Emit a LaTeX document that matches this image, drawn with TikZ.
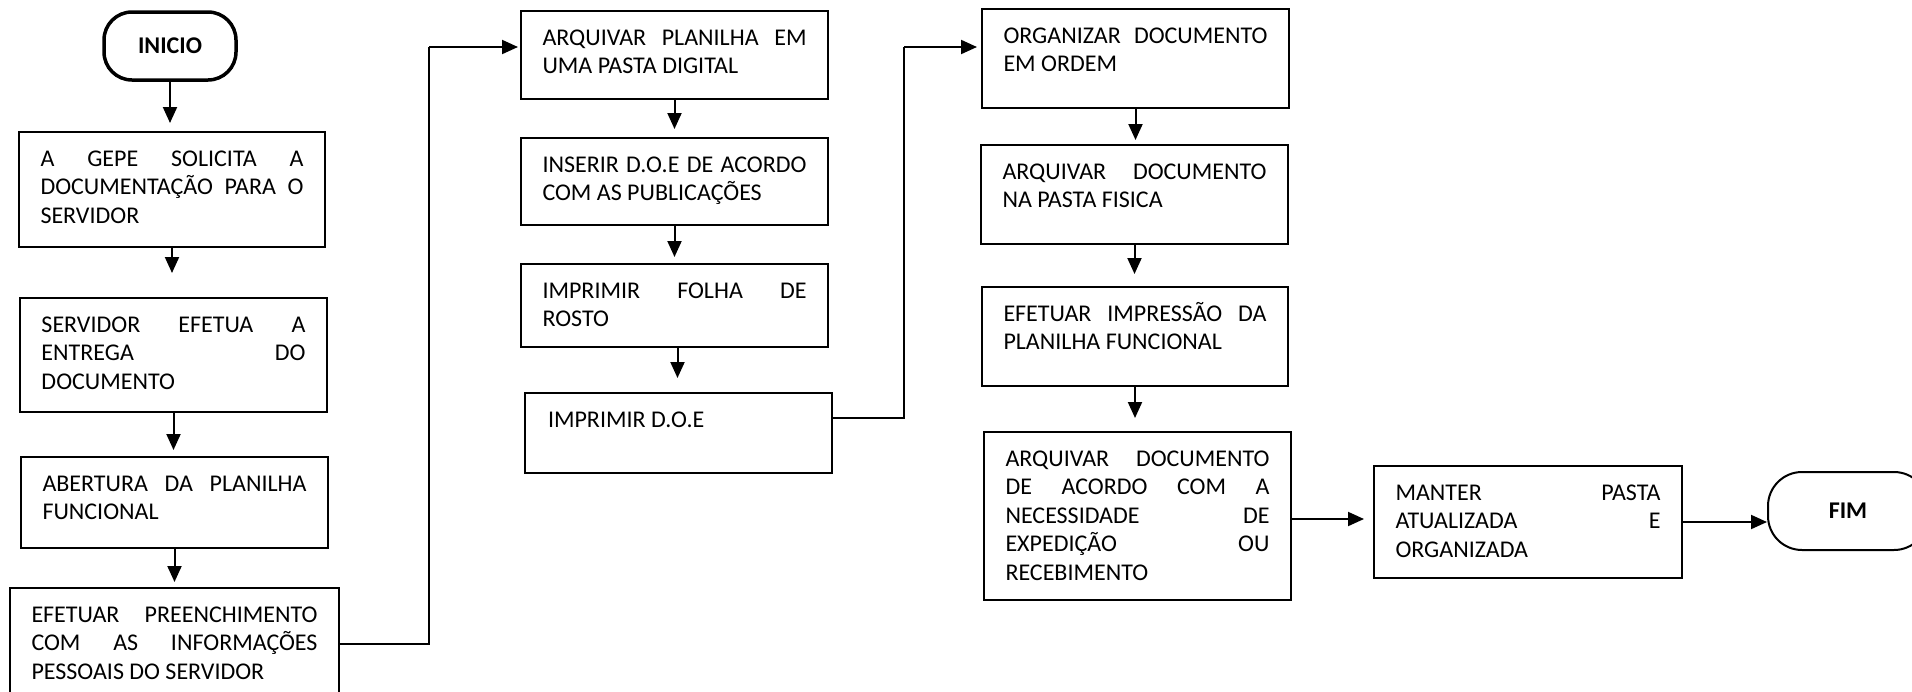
\documentclass[tikz,border=0pt]{standalone}
\usepackage{fontspec}
\setmainfont{Carlito}
\usetikzlibrary{arrows.meta}

% a justified (stretched) line inside a step box
\newcommand\jline[1]{\makebox[\linewidth][s]{#1}\\}
% top-aligned body of a step box: #1 outer width, #2 outer height, #3 lines
\newcommand\boxtext[3]{\parbox[t][#2pt][t]{\dimexpr#1pt-43pt\relax}{\vspace*{14.5pt}\strut#3}}

\begin{document}
\begin{tikzpicture}[x=1pt,y=-1pt,
  stepbox/.style={draw, line width=2pt, inner xsep=21.5pt, inner ysep=0pt,
    anchor=north west, font=\fontsize{24}{28.5}\selectfont},
  terminal/.style={draw, inner sep=0pt, font=\fontsize{24}{28.5}\selectfont\bfseries},
  flow/.style={line width=2pt, -{Triangle[length=16pt,width=14pt]}},
  link/.style={line width=2pt}]

\useasboundingbox (0,0) rectangle (1912,691);

% start and end
\node[terminal, line width=3.5pt, rounded corners=28pt, minimum width=132pt, minimum height=68pt] (start) at (170,46) {INICIO};
\node[terminal, line width=2pt, rounded corners=34pt, minimum width=160pt, minimum height=78pt] (fim) at (1848,511) {FIM};

% first column
\node[stepbox] (b1) at (18,131) {\boxtext{306}{115}{\jline{A GEPE SOLICITA A}\jline{DOCUMENTAÇÃO PARA O}SERVIDOR}};
\node[stepbox] (b2) at (19,297) {\boxtext{307}{114}{\jline{SERVIDOR EFETUA A}\jline{ENTREGA DO}DOCUMENTO}};
\node[stepbox] (b3) at (20,456) {\boxtext{307}{91}{\jline{ABERTURA DA PLANILHA}FUNCIONAL}};
\node[stepbox] (b4) at (9,587) {\boxtext{329}{112}{\jline{EFETUAR PREENCHIMENTO}\jline{COM AS INFORMAÇÕES}PESSOAIS DO SERVIDOR}};

% second column
\node[stepbox] (b5) at (520,10) {\boxtext{307}{88}{\jline{ARQUIVAR PLANILHA EM}UMA PASTA DIGITAL}};
\node[stepbox] (b6) at (520,137) {\boxtext{307}{87}{\jline{INSERIR D.O.E DE ACORDO}COM AS PUBLICAÇÕES}};
\node[stepbox] (b7) at (520,263) {\boxtext{307}{83}{\jline{IMPRIMIR FOLHA DE}ROSTO}};
\node[stepbox] (b8) at (524,392) {\boxtext{307}{80}{\hspace*{1.5pt}IMPRIMIR D.O.E}};

% third column
\node[stepbox] (b9) at (981,8) {\boxtext{307}{99}{\jline{ORGANIZAR DOCUMENTO}EM ORDEM}};
\node[stepbox] (b10) at (980,144) {\boxtext{307}{99}{\jline{ARQUIVAR DOCUMENTO}NA PASTA FISICA}};
\node[stepbox] (b11) at (981,286) {\boxtext{306}{99}{\jline{EFETUAR IMPRESSÃO DA}PLANILHA FUNCIONAL}};
\node[stepbox] (b12) at (983,431) {\boxtext{307}{168}{\jline{ARQUIVAR DOCUMENTO}\jline{DE ACORDO COM A}\jline{NECESSIDADE DE}\jline{EXPEDIÇÃO OU}RECEBIMENTO}};
\node[stepbox] (b13) at (1373,465) {\boxtext{308}{112}{\jline{MANTER PASTA}\jline{ATUALIZADA E}ORGANIZADA}};

% routing corners
\coordinate (r1) at (429,47);
\coordinate (r2) at (904,47);

% vertical steps
\draw[flow, shorten >=8pt] (start.south) -- (start.south |- b1.north);
\draw[flow, shorten >=24pt] (b1.south) -- (b1.south |- b2.north);
\draw[flow, shorten >=6pt] (b2.south) -- (b2.south |- b3.north);
\draw[flow, shorten >=5pt] (b3.south) -- (b3.south |- b4.north);
\draw[flow, shorten >=8pt] (b5.south) -- (b5.south |- b6.north);
\draw[flow, shorten >=6pt] (b6.south) -- (b6.south |- b7.north);
\draw[flow, shorten >=14pt] ([xshift=3pt]b7.south) -- ([xshift=3pt]b7.south |- b8.north);
\draw[flow, shorten >=4pt] (b9.south) -- (b9.south |- b10.north);
\draw[flow, shorten >=12pt] (b10.south) -- (b10.south |- b11.north);
\draw[flow, shorten >=13pt] (b11.south) -- (b11.south |- b12.north);

% column changes
\draw[link] (b4.east) -| (r1);
\draw[flow, shorten >=2pt] (r1) -- (r1 -| b5.west);
\draw[link] ([yshift=15pt]b8.east) -| (r2);
\draw[flow, shorten >=4pt] (r2) -- (r2 -| b9.west);

% final row
\draw[flow, shorten >=9pt] ([yshift=-3pt]b12.east) -- ([yshift=-3pt]b12.east -| b13.west);
\draw[flow] (b13.east) -- (b13.east -| fim.west);
\end{tikzpicture}
\end{document}
